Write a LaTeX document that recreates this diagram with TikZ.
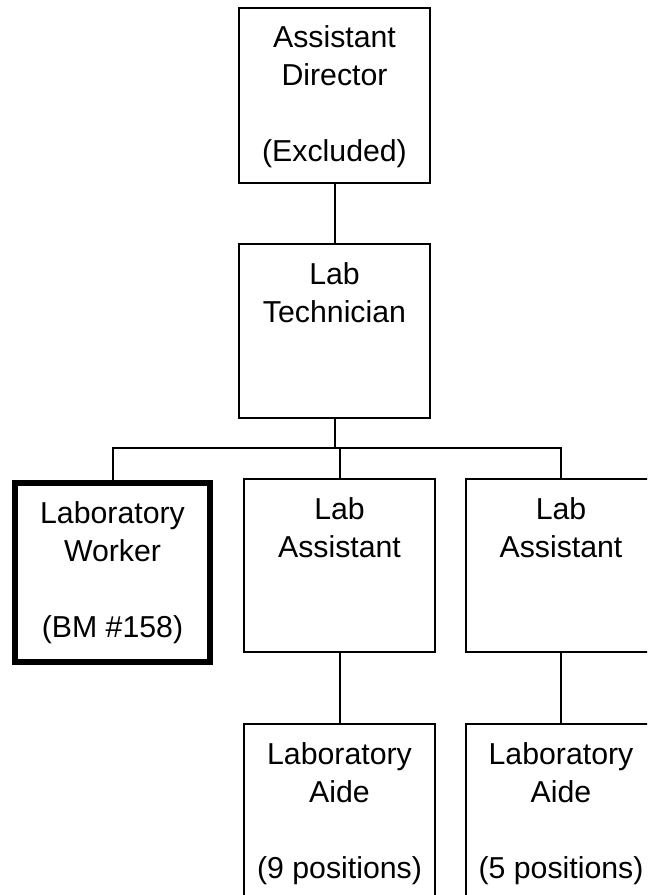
\documentclass[tikz,border=0pt]{standalone}
\usepackage{fontspec}
\setmainfont{Liberation Sans}
\newcommand{\posttext}[3][143.25pt]{\parbox[c][#2][t]{#1}{\centering\rule{0pt}{30pt}#3}}

\begin{document}
\begin{tikzpicture}[x=0.75pt, y=-0.75pt]
 \clip (0,0) rectangle (647,895);
 \fill[white] (0,0) rectangle (647,895);
 \begin{scope}[every node/.style={draw, rectangle, anchor=north, inner sep=0pt, line width=1.5pt,
     font=\fontsize{22.7pt}{28.5pt}\selectfont}]
   \node (dir)    at (334.5,7)   {\posttext{131pt}{Assistant\\Director\\[28.5pt](Excluded)}};
   \node (tech)   at (334.5,243) {\posttext{130.5pt}{Lab\\Technician}};
   \node (worker) [line width=4.5pt] at (112.5,480) {\posttext[146.25pt]{134pt}{Laboratory\\Worker\\[28.5pt](BM \#158)}};
   \node (asst1)  at (339.5,478) {\posttext{130pt}{Lab\\Assistant}};
   \node (asst2)  at (561,478)   {\posttext{130pt}{Lab\\Assistant}};
   \node (aide1)  at (339.5,723) {\posttext{135pt}{Laboratory\\Aide\\[28.5pt](9 positions)}};
   \node (aide2)  at (561,723)   {\posttext{135pt}{Laboratory\\Aide\\[28.5pt](5 positions)}};
 \end{scope}
 \coordinate (split) at (334.5,448);
 \begin{scope}[line width=1.5pt]
   \draw (dir) -- (tech);
   \draw (tech) -- (split);
   \draw (worker.north) |- (split) -| (asst2.north);
   \draw (asst1.north) -- (asst1.north |- split);
   \draw (asst1) -- (aide1);
   \draw (asst2) -- (aide2);
 \end{scope}
\end{tikzpicture}
\end{document}
